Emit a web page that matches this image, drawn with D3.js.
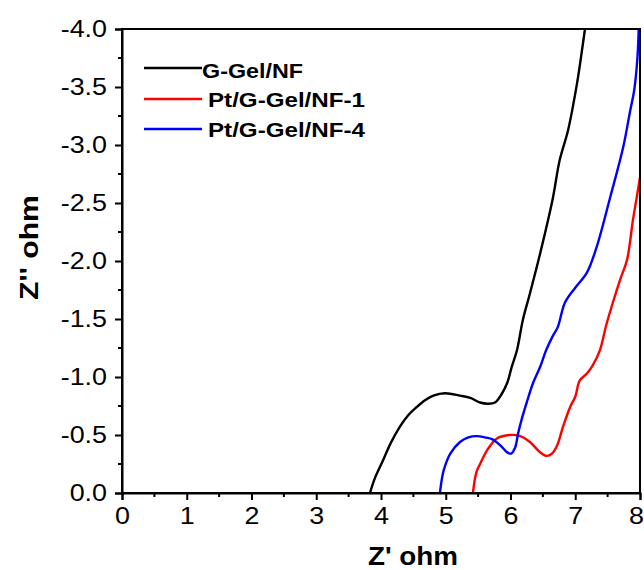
<!DOCTYPE html>
<html><head><meta charset="utf-8">
<script src="https://cdn.jsdelivr.net/npm/d3@7"></script>
<style>body{margin:0;background:#fff}svg{display:block}text{font-family:"Liberation Sans",Arial,sans-serif}</style>
</head><body><svg id="c" width="644" height="570"></svg>
<script>
const seriesNames = ["G-Gel/NF", "Pt/G-Gel/NF-1", "Pt/G-Gel/NF-4"];
const seriesColors = ["#000000", "#ff0000", "#0000ff"];
const xTicks = [0,1,2,3,4,5,6,7,8];
const yTicks = [0.0,-0.5,-1.0,-1.5,-2.0,-2.5,-3.0,-3.5,-4.0];
const blackX = [3.83,3.90,4.03,4.15,4.29,4.42,4.55,4.68,4.81,4.99,5.22,5.38,5.53,5.65,5.76,5.87,5.95,6.02,6.10,6.19,6.30,6.46,6.65,6.76,6.89,7.03,7.10,7.15];
const blackY = [0,-0.12,-0.28,-0.43,-0.57,-0.67,-0.74,-0.80,-0.84,-0.86,-0.84,-0.82,-0.78,-0.77,-0.78,-0.86,-0.95,-1.09,-1.23,-1.49,-1.72,-2.07,-2.53,-2.87,-3.13,-3.54,-3.80,-4.0];
const redX = [5.42,5.45,5.48,5.53,5.64,5.79,5.99,6.15,6.30,6.46,6.56,6.64,6.72,6.81,6.92,7.00,7.07,7.18,7.27,7.38,7.48,7.58,7.70,7.80,7.89,7.95,8.0];
const redY = [0,-0.12,-0.19,-0.25,-0.37,-0.47,-0.50,-0.49,-0.44,-0.35,-0.32,-0.34,-0.41,-0.57,-0.74,-0.83,-0.97,-1.03,-1.10,-1.23,-1.45,-1.64,-1.85,-2.01,-2.35,-2.55,-2.72];
const blueX = [4.91,4.94,4.97,5.07,5.22,5.35,5.48,5.60,5.73,5.88,5.95,6.01,6.07,6.12,6.18,6.25,6.35,6.46,6.55,6.65,6.73,6.84,7.00,7.18,7.33,7.54,7.74,7.85,7.91,7.96,7.98];
const blueY = [0,-0.12,-0.20,-0.34,-0.44,-0.48,-0.49,-0.48,-0.46,-0.39,-0.35,-0.34,-0.39,-0.52,-0.65,-0.78,-0.95,-1.09,-1.23,-1.35,-1.43,-1.64,-1.77,-1.90,-2.12,-2.55,-2.98,-3.30,-3.47,-3.75,-4.0];

const svg = d3.select("#c");
const L=122, R=640, T=29, B=493;
const x = d3.scaleLinear().domain([0,8]).range([L,R]);
const y = d3.scaleLinear().domain([0,-4]).range([B,T]);

svg.append("clipPath").attr("id","clip").append("rect").attr("x",L).attr("y",T).attr("width",R-L).attr("height",B-T);

const series = [
  {name:seriesNames[0], color:seriesColors[0], xs:blackX, ys:blackY},
  {name:seriesNames[1], color:seriesColors[1], xs:redX, ys:redY},
  {name:seriesNames[2], color:seriesColors[2], xs:blueX, ys:blueY}
];
const line = d3.line().x(d=>x(d[0])).y(d=>y(d[1])).curve(d3.curveCatmullRom.alpha(0.5));
const gl = svg.append("g").attr("clip-path","url(#clip)");
series.forEach(s=>{
  gl.append("path").datum(s.xs.map((v,i)=>[v,s.ys[i]]))
    .attr("d",line).attr("fill","none").attr("stroke",s.color).attr("stroke-width",2.4);
});

// frame
svg.append("rect").attr("x",L).attr("y",T).attr("width",R-L).attr("height",B-T)
  .attr("fill","none").attr("stroke","#000").attr("stroke-width",2);

// minor ticks
const gx = svg.append("g");
d3.range(0.5,8,1).forEach(v=>gx.append("line").attr("x1",x(v)).attr("x2",x(v)).attr("y1",B).attr("y2",B+4).attr("stroke","#000").attr("stroke-width",2));
d3.range(-0.25,-4,-0.5).forEach(v=>gx.append("line").attr("x1",L-4).attr("x2",L).attr("y1",y(v)).attr("y2",y(v)).attr("stroke","#000").attr("stroke-width",2));

const xa = svg.append("g").attr("transform",`translate(0,${B})`)
  .call(d3.axisBottom(x).tickValues(xTicks).tickSize(7).tickPadding(7).tickFormat(d3.format("d")));
const ya = svg.append("g").attr("transform",`translate(${L},0)`)
  .call(d3.axisLeft(y).tickValues(yTicks).tickSize(7).tickPadding(9).tickFormat(d3.format(".1f")));
[xa,ya].forEach(a=>{
  a.select(".domain").attr("stroke-width",2);
  a.selectAll(".tick line").attr("stroke-width",2);
  a.selectAll("text").attr("font-size",24).attr("fill","#000");
});
xa.selectAll("text").attr("transform","scale(1.12,1)").attr("x",d=>d===8?-4/1.12:0);
ya.selectAll("text").attr("x",-15/1.12).attr("transform","scale(1.12,1)").text(d=>d===0?"0.0":d3.format(".1f")(d).replace("−","-"));

// axis titles
svg.append("text").attr("x",368).attr("y",565).attr("font-size",25).attr("font-weight","bold")
  .attr("textLength",90).attr("lengthAdjust","spacingAndGlyphs").text("Z' ohm");
svg.append("text").attr("transform","translate(38,300) rotate(-90)").attr("font-size",25).attr("font-weight","bold")
  .attr("textLength",105).attr("lengthAdjust","spacingAndGlyphs").text("Z'' ohm");

// legend
const legY=[68,99,129], legBase=[78,107,137], legTX=[202,208,208], legW=[101,157,157];
series.forEach((s,i)=>{
  svg.append("line").attr("x1",144).attr("x2",202).attr("y1",legY[i]).attr("y2",legY[i]).attr("stroke",s.color).attr("stroke-width",2.4);
  svg.append("text").attr("x",legTX[i]).attr("y",legBase[i]).attr("font-size",21).attr("font-weight","bold")
    .attr("textLength",legW[i]).attr("lengthAdjust","spacingAndGlyphs").text(s.name);
});
</script></body></html>
